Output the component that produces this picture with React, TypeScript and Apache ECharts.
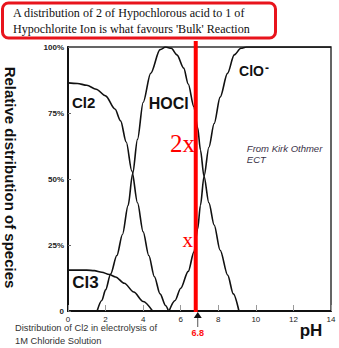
import React, { useEffect, useRef } from 'react';
import * as echarts from 'echarts';

// ---- data (pH, % of species) ----
const phTicks = [0, 2, 4, 6, 8, 10, 12, 14];
const pctTicks = [0, 25, 50, 75, 100];
const pctTickLabels = ['0', '25%', '50%', '75%', '100%'];

const cl2 = [
  [0, 86.4], [0.5, 86.2], [1.0, 85.5], [1.5, 84], [2.0, 81.5], [2.5, 76.5], [2.8, 72],
  [3.1, 64], [3.4, 53], [3.7, 41], [4.0, 30], [4.3, 21], [4.6, 13], [4.9, 6.5],
  [5.2, 2], [5.35, 0],
];
const cl3 = [
  [0, 15.5], [0.5, 15.5], [1.0, 15.5], [1.4, 15.3], [1.8, 14.7], [2.2, 13.8],
  [2.53, 12.9], [3.0, 10.5], [3.5, 7.2], [4.0, 3.6], [4.5, 0],
];
const hocl = [
  [1.55, 0], [1.8, 4], [2.0, 8], [2.27, 14], [2.6, 21], [2.9, 29], [3.2, 40], [3.44, 52],
  [3.7, 65], [4.0, 79], [4.4, 90], [4.9, 99], [5.2, 100], [5.5, 99.5], [5.8, 97],
  [6.16, 92], [6.4, 86], [6.7, 77.4], [6.9, 69.5], [7.05, 61], [7.24, 51], [7.5, 41],
  [7.78, 32.6], [8.1, 23], [8.5, 13.6], [8.8, 6.5], [9.1, 0],
];
const clo = [
  [5.38, 0], [5.7, 4], [6.0, 8.6], [6.4, 15], [6.71, 22.5], [6.9, 31], [7.05, 40],
  [7.24, 51], [7.5, 62], [7.78, 71], [8.1, 81], [8.49, 90], [8.85, 97], [9.2, 99.5],
  [9.5, 100], [14, 100],
];
const markPH = 6.8;

export default function App() {
  const ref = useRef<HTMLDivElement>(null);

  useEffect(() => {
    if (!ref.current) return;
    const chart = echarts.init(ref.current, null, { renderer: 'svg' });
    const lineSeries = (name: string, data: number[][]) => ({
      name,
      type: 'line',
      data,
      symbol: 'none',
      showSymbol: false,
      smooth: 0.3,
      smoothMonotone: 'x',
      lineStyle: { color: '#111', width: 1.6 },
      z: 3,
    });
    chart.setOption({
      animation: false,
      grid: {
        left: 68, right: 8, top: 47, bottom: 37,
        show: true, borderColor: '#333', borderWidth: 1.5,
      },
      xAxis: {
        type: 'value', min: 0, max: 14, interval: 2,
        axisLine: { show: true, onZero: false, lineStyle: { color: '#111', width: 2 } },
        axisTick: { show: true, inside: true, length: 6, lineStyle: { color: '#999' } },
        axisLabel: {
          fontSize: 8, color: '#222', margin: 4, fontFamily: 'Liberation Sans',
          formatter: (v: number) => (phTicks.includes(v) ? String(v) : ''),
        },
        splitLine: { show: false },
      },
      yAxis: {
        type: 'value', min: 0, max: 100, interval: 25,
        axisLine: { show: true, lineStyle: { color: '#111', width: 2 } },
        axisTick: { show: true, inside: true, length: 3, lineStyle: { color: '#666' } },
        axisLabel: {
          fontSize: 8, color: '#222', margin: 4, fontWeight: 'bold', fontFamily: 'Liberation Sans',
          formatter: (v: number) => {
            const i = pctTicks.indexOf(v);
            return i >= 0 ? pctTickLabels[i] : '';
          },
        },
        splitLine: { show: false },
      },
      series: [
        lineSeries('Cl2', cl2),
        lineSeries('Cl3', cl3),
        lineSeries('HOCl', hocl),
        lineSeries('ClO-', clo),
      ],
    });

    const px = (p: number[]) => chart.convertToPixel({ gridIndex: 0 }, p) as number[];
    const redTop = px([markPH, 102.3]);
    const redBot = px([markPH, 0]);
    const lab = (text: string, p: number[], style: any, extra: any = {}) => {
      const [x, y] = px(p);
      return {
        type: 'text', x, y, z: 20,
        style: { text, align: 'center', verticalAlign: 'middle', fill: '#111', ...style },
        ...extra,
      };
    };
    const bold = { fontFamily: 'Liberation Sans', fontWeight: 'bold' };

    chart.setOption({
      graphic: [
        // title box
        {
          type: 'rect', z: 30,
          shape: { x: 2.5, y: 3, width: 273, height: 35, r: 6 },
          style: { fill: '#fff', stroke: '#e8141c', lineWidth: 3 },
        },
        {
          type: 'text', x: 13, y: 12.8, z: 31,
          style: {
            text: 'A distribution of 2 of Hypochlorous acid to 1 of',
            fontFamily: 'Liberation Serif', fontSize: 12.1, fill: '#111', verticalAlign: 'middle',
          },
        },
        {
          type: 'text', x: 13, y: 28.8, z: 31,
          style: {
            text: "Hypochlorite Ion is what favours 'Bulk' Reaction",
            fontFamily: 'Liberation Serif', fontSize: 12.1, fill: '#111', verticalAlign: 'middle',
          },
        },
        // red marker line at pH 6.8
        {
          type: 'line', z: 10,
          shape: { x1: redTop[0], y1: redTop[1], x2: redBot[0], y2: redBot[1] + 1 },
          style: { stroke: '#ff0000', lineWidth: 4 },
        },
        // arrow below axis
        {
          type: 'polygon', z: 12,
          shape: { points: [[redBot[0] + 2, redBot[1] + 1], [redBot[0] - 2, redBot[1] + 7], [redBot[0] + 6, redBot[1] + 7]] },
          style: { fill: '#111' },
        },
        {
          type: 'line', z: 12,
          shape: { x1: redBot[0] + 2, y1: redBot[1] + 7, x2: redBot[0] + 2, y2: redBot[1] + 16 },
          style: { stroke: '#555', lineWidth: 1 },
        },
        {
          type: 'text', x: redBot[0] + 2, y: redBot[1] + 22, z: 12,
          style: {
            text: '6.8', ...bold, fontSize: 9, fill: '#ff1010',
            align: 'center', verticalAlign: 'middle',
          },
        },
        // species labels
        lab('Cl2', [0.83, 79], { ...bold, fontSize: 15 }),
        lab('HOCl', [5.36, 78.6], { ...bold, fontSize: 16 }),
        lab('Cl3', [0.93, 10.8], { ...bold, fontSize: 17 }),
        {
          type: 'text', z: 20,
          x: px([9.9, 91])[0], y: px([9.9, 91])[1],
          style: {
            text: '{a|ClO}{b|-}',
            align: 'center', verticalAlign: 'middle',
            rich: {
              a: { ...bold, fontSize: 14, fill: '#111' },
              b: { ...bold, fontSize: 12, fill: '#111', verticalAlign: 'top', padding: [0, 0, 6, 1] },
            },
          },
        },
        lab('2x', [6.1, 63.5], { fontFamily: 'Liberation Serif', fontSize: 25, fill: '#ff0000' }),
        lab('x', [6.37, 27], { fontFamily: 'Liberation Serif', fontSize: 21, fill: '#ff0000' }),
        lab('From Kirk Othmer', [9.52, 61.6], {
          fontFamily: 'Liberation Sans', fontStyle: 'italic', fontSize: 9.5, fill: '#3a3248', align: 'left',
        }),
        lab('ECT', [9.52, 57.2], {
          fontFamily: 'Liberation Sans', fontStyle: 'italic', fontSize: 9.5, fill: '#3a3248', align: 'left',
        }),
        // axis titles
        {
          type: 'text', x: 10, y: 177.5, rotation: -Math.PI / 2, z: 20,
          style: {
            text: 'Relative distribution of species', ...bold, fontSize: 15,
            fill: '#111', align: 'center', verticalAlign: 'middle',
          },
        },
        {
          type: 'text', x: 311, y: 330, z: 20,
          style: { text: 'pH', ...bold, fontSize: 17, fill: '#111', align: 'center', verticalAlign: 'middle' },
        },
        {
          type: 'text', x: 15, y: 328, z: 20,
          style: {
            text: 'Distribution of Cl2 in electrolysis of', fontFamily: 'Liberation Sans',
            fontSize: 9.3, fill: '#333', verticalAlign: 'middle',
          },
        },
        {
          type: 'text', x: 15, y: 341, z: 20,
          style: {
            text: '1M Chloride Solution', fontFamily: 'Liberation Sans',
            fontSize: 9.3, fill: '#333', verticalAlign: 'middle',
          },
        },
      ],
    });

    return () => chart.dispose();
  }, []);

  return (
    <div
      ref={ref}
      style={{ position: 'fixed', left: 0, top: 0, width: 339, height: 348, background: '#fff' }}
    />
  );
}
